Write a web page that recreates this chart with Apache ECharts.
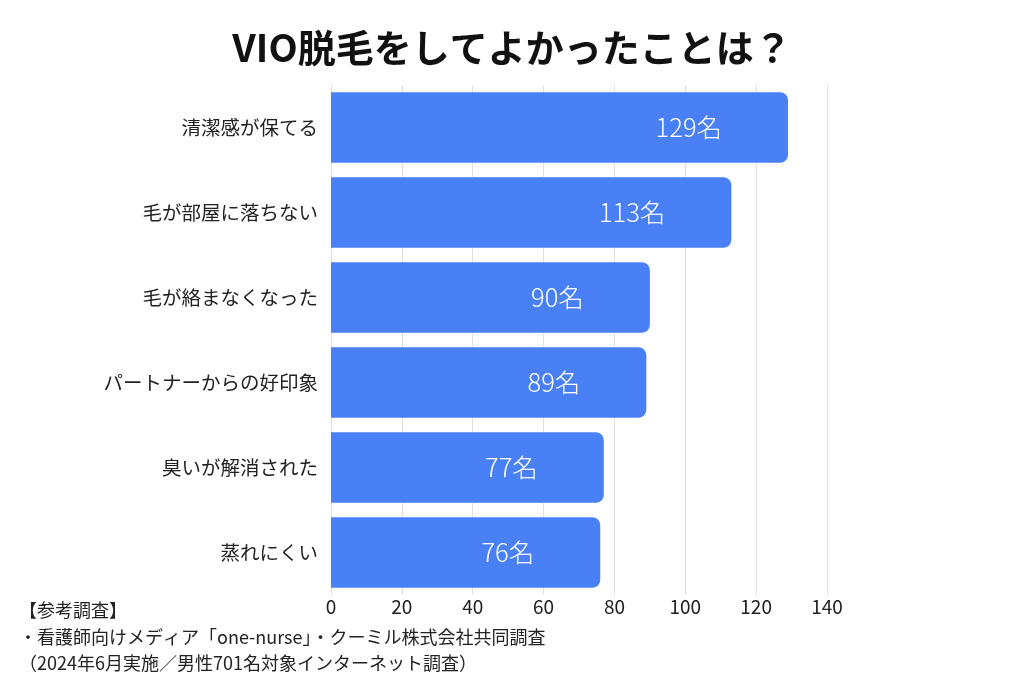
<!DOCTYPE html>
<html>
<head>
<meta charset="utf-8">
<script src="https://cdn.jsdelivr.net/npm/echarts@6/dist/echarts.min.js"></script>
<style>
  html, body { margin: 0; padding: 0; background: #fff; }
  #chart { width: 1024px; height: 683px; }
</style>
</head>
<body>
<div id="chart"></div>
<script>
// 上から順に表示
const categories = ['清潔感が保てる', '毛が部屋に落ちない', '毛が絡まなくなった', 'パートナーからの好印象', '臭いが解消された', '蒸れにくい']
const counts = [129, 113, 90, 89, 77, 76]
const xTicks = { min: 0, max: 140, interval: 20 }
const noteLines = [
  '【参考調査】',
  '・看護師向けメディア「one-nurse」・クーミル株式会社共同調査',
  '（2024年6月実施／男性701名対象インターネット調査）'
]

const font = '"Noto Sans CJK JP", "Noto Sans", sans-serif'
const chart = echarts.init(document.getElementById('chart'))

chart.setOption({
  backgroundColor: '#fff',
  textStyle: { fontFamily: font },
  title: {
    text: 'VIO脱毛をしてよかったことは？',
    left: 'center',
    top: 24,
    textStyle: { fontSize: 38, fontWeight: 'bold', color: '#111', fontFamily: font }
  },
  graphic: [{
    type: 'text',
    left: 19,
    top: 597,
    style: {
      text: noteLines.join('\n'),
      font: '18px ' + font,
      lineHeight: 26.5,
      fill: '#222'
    }
  }],
  grid: { left: 331, right: 197, top: 85, bottom: 88 },
  xAxis: {
    type: 'value',
    min: xTicks.min,
    max: xTicks.max,
    interval: xTicks.interval,
    axisLine: { show: false },
    axisTick: { show: false },
    axisLabel: { fontSize: 19, color: '#222', margin: 2, fontFamily: font },
    splitLine: { lineStyle: { color: '#e0e0e0', width: 1 } }
  },
  yAxis: {
    type: 'category',
    data: categories,
    inverse: true,
    axisLine: { show: false },
    axisTick: { show: false },
    axisLabel: { fontSize: 19.5, color: '#222', margin: 13, fontFamily: font }
  },
  series: [{
    type: 'bar',
    data: counts,
    barCategoryGap: '17%',
    itemStyle: { color: '#4a80f6', borderRadius: [0, 8, 8, 0] },
    label: {
      show: true,
      position: 'insideRight',
      distance: 66,
      formatter: '{c}名',
      color: '#fff',
      fontSize: 25.5,
      fontWeight: 300,
      fontFamily: font
    }
  }]
})
</script>
</body>
</html>
